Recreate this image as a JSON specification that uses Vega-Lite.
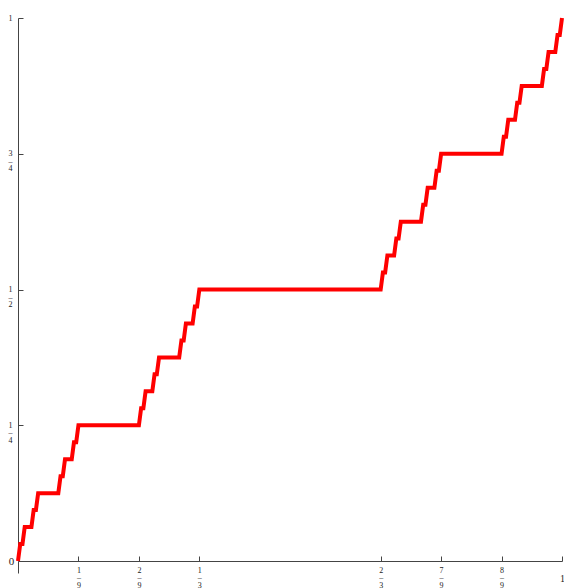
{
  "$schema": "https://vega.github.io/schema/vega-lite/v6.json",
  "width": 544,
  "height": 543,
  "autosize": {"type": "none"},
  "padding": {"left": 18, "top": 18, "right": 2, "bottom": 27},
  "background": "white",
  "config": {"view": {"stroke": null}},
  "data": {"values": [
    {"x": 0, "y": 0}, {"x": 0.004115, "y": 0.03125}, {"x": 0.00823, "y": 0.03125}, {"x": 0.012346, "y": 0.0625},
    {"x": 0.024691, "y": 0.0625}, {"x": 0.028807, "y": 0.09375}, {"x": 0.032922, "y": 0.09375}, {"x": 0.037037, "y": 0.125},
    {"x": 0.074074, "y": 0.125}, {"x": 0.078189, "y": 0.15625}, {"x": 0.082305, "y": 0.15625}, {"x": 0.08642, "y": 0.1875},
    {"x": 0.098765, "y": 0.1875}, {"x": 0.102881, "y": 0.21875}, {"x": 0.106996, "y": 0.21875}, {"x": 0.111111, "y": 0.25},
    {"x": 0.222222, "y": 0.25}, {"x": 0.226337, "y": 0.28125}, {"x": 0.230453, "y": 0.28125}, {"x": 0.234568, "y": 0.3125},
    {"x": 0.246914, "y": 0.3125}, {"x": 0.251029, "y": 0.34375}, {"x": 0.255144, "y": 0.34375}, {"x": 0.259259, "y": 0.375},
    {"x": 0.296296, "y": 0.375}, {"x": 0.300412, "y": 0.40625}, {"x": 0.304527, "y": 0.40625}, {"x": 0.308642, "y": 0.4375},
    {"x": 0.320988, "y": 0.4375}, {"x": 0.325103, "y": 0.46875}, {"x": 0.329218, "y": 0.46875}, {"x": 0.333333, "y": 0.5},
    {"x": 0.666667, "y": 0.5}, {"x": 0.670782, "y": 0.53125}, {"x": 0.674897, "y": 0.53125}, {"x": 0.679012, "y": 0.5625},
    {"x": 0.691358, "y": 0.5625}, {"x": 0.695473, "y": 0.59375}, {"x": 0.699588, "y": 0.59375}, {"x": 0.703704, "y": 0.625},
    {"x": 0.740741, "y": 0.625}, {"x": 0.744856, "y": 0.65625}, {"x": 0.748971, "y": 0.65625}, {"x": 0.753086, "y": 0.6875},
    {"x": 0.765432, "y": 0.6875}, {"x": 0.769547, "y": 0.71875}, {"x": 0.773663, "y": 0.71875}, {"x": 0.777778, "y": 0.75},
    {"x": 0.888889, "y": 0.75}, {"x": 0.893004, "y": 0.78125}, {"x": 0.897119, "y": 0.78125}, {"x": 0.901235, "y": 0.8125},
    {"x": 0.91358, "y": 0.8125}, {"x": 0.917695, "y": 0.84375}, {"x": 0.921811, "y": 0.84375}, {"x": 0.925926, "y": 0.875},
    {"x": 0.962963, "y": 0.875}, {"x": 0.967078, "y": 0.90625}, {"x": 0.971193, "y": 0.90625}, {"x": 0.975309, "y": 0.9375},
    {"x": 0.987654, "y": 0.9375}, {"x": 0.99177, "y": 0.96875}, {"x": 0.995885, "y": 0.96875}, {"x": 1, "y": 1}
  ]},
  "mark": {"type": "line", "color": "#ff0000", "strokeWidth": 4, "strokeJoin": "miter", "clip": false},
  "encoding": {
    "x": {
      "field": "x", "type": "quantitative", "sort": null,
      "scale": {"domain": [0, 1], "nice": false, "zero": false},
      "axis": {
        "title": null, "grid": false, "domainColor": "#444444", "tickColor": "#444444",
        "values": [0, 0.111111, 0.222222, 0.333333, 0.666667, 0.777778, 0.888889, 1],
        "tickSize": {"condition": {"test": "datum.value == 0", "value": 12}, "value": -5},
        "labelPadding": 10, "labelFont": "Liberation Serif",
        "labelFontSize": {"condition": {"test": "datum.value == 1", "value": 10}, "value": 8},
        "labelColor": "#222222", "labelLineHeight": 7.5, "labelBaseline": "top", "labelFlush": false,
        "labelOverlap": false,
        "labelExpr": "datum.value == 0 ? '' : datum.value < 0.15 ? ['1','–','9'] : datum.value < 0.25 ? ['2','–','9'] : datum.value < 0.4 ? ['1','–','3'] : datum.value < 0.7 ? ['2','–','3'] : datum.value < 0.8 ? ['7','–','9'] : datum.value < 0.95 ? ['8','–','9'] : ['','1','']"
      }
    },
    "y": {
      "field": "y", "type": "quantitative",
      "scale": {"domain": [0, 1], "nice": false, "zero": false},
      "axis": {
        "title": null, "grid": false, "domainColor": "#444444", "tickColor": "#444444",
        "values": [0, 0.25, 0.5, 0.75, 1],
        "tickSize": {"condition": {"test": "datum.value == 0", "value": 0}, "value": -5},
        "labelPadding": {"condition": {"test": "datum.value == 0", "value": 7}, "value": 13},
        "labelFont": "Liberation Serif",
        "labelFontSize": {"condition": {"test": "datum.value == 0", "value": 11}, "value": 8},
        "labelColor": "#222222", "labelLineHeight": 7.5, "labelBaseline": "middle", "labelAlign": "center",
        "labelFlush": false, "labelOverlap": false,
        "labelExpr": "datum.value == 0 ? '0' : datum.value == 0.25 ? ['1','–','4'] : datum.value == 0.5 ? ['1','–','2'] : datum.value == 0.75 ? ['3','–','4'] : '1'"
      }
    }
  }
}
